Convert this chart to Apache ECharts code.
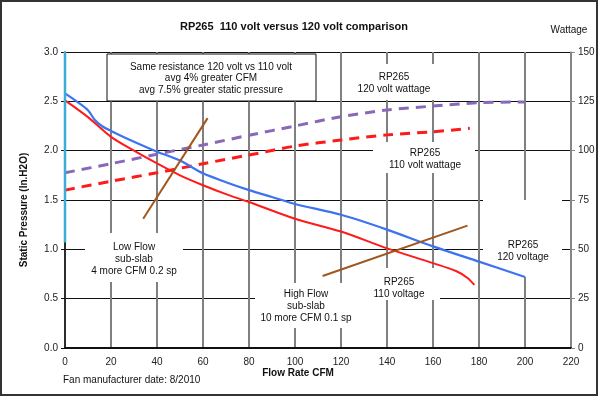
<!DOCTYPE html>
<html><head><meta charset="utf-8">
<script src="https://cdn.jsdelivr.net/npm/echarts@6/dist/echarts.min.js"></script>
<style>html,body{margin:0;padding:0;background:#fff}#c{width:599px;height:397px}</style>
</head><body><div id="c"></div>
<script>
// Static pressure curves (In.H2O) vs flow (CFM)
const flow120 = [0, 5, 10, 13, 16, 20, 30, 40, 50, 60, 70, 80, 90, 100, 120, 140, 160, 180, 200];
const sp120   = [2.58, 2.50, 2.41, 2.31, 2.25, 2.20, 2.09, 1.99, 1.90, 1.77, 1.68, 1.60, 1.53, 1.46, 1.35, 1.20, 1.03, 0.875, 0.72];
const flow110 = [0, 10, 20, 30, 40, 50, 60, 70, 80, 100, 120, 140, 160, 170, 175, 178];
const sp110   = [2.51, 2.34, 2.14, 2.00, 1.87, 1.75, 1.65, 1.56, 1.48, 1.31, 1.18, 1.01, 0.86, 0.78, 0.71, 0.64];
// Wattage curves
const wflow120 = [0, 20, 40, 60, 80, 100, 120, 140, 160, 180, 200];
const watt120  = [88.8, 93.4, 98.2, 102.9, 107.8, 112.5, 117.2, 120.6, 122.6, 124.3, 124.7];
const wflow110 = [0, 20, 40, 60, 80, 100, 120, 140, 160, 176];
const watt110  = [80, 84.5, 88.8, 93.4, 97.8, 102.3, 105.4, 108, 109.6, 111.3];
// Brown operating lines
const lowFlowLine  = [[34, 1.31], [62, 2.33]];
const highFlowLine = [[112, 0.73], [175, 1.24]];
const cyanMarker   = [[0, 3.0], [0, 1.07]];
// Axis ticks
const xTicks = {min: 0, max: 220, interval: 20};
const yTicks = {min: 0, max: 3, interval: 0.5};
const y2Ticks = {min: 0, max: 150, interval: 25};

const zip = (xs, ys) => xs.map((x, i) => [x, ys[i]]);
const FONT = '"Liberation Sans", Arial, sans-serif';

const chart = echarts.init(document.getElementById('c'), null, {renderer: 'canvas'});

function txt(x, y, text, opts) {
  opts = opts || {};
  return {type: 'text', x: x, y: y, z: 5, rotation: opts.rotation || 0,
    style: {text: text, fill: opts.fill || '#111', align: opts.align || 'center', verticalAlign: 'middle',
      font: (opts.bold ? 'bold ' : '') + (opts.size || 10) + 'px ' + FONT, lineHeight: opts.lh || 12.5}};
}
function box(x, y, w, h, border) {
  return {type: 'rect', z: 1, shape: {x: x, y: y, width: w, height: h},
    style: {fill: '#fff', stroke: border ? '#111' : null, lineWidth: border ? 1 : 0}};
}

const option = {
  backgroundColor: '#fff',
  animation: false,
  grid: {left: 65, right: 28, top: 52, bottom: 49, containLabel: false},
  xAxis: {
    type: 'value', min: xTicks.min, max: xTicks.max, interval: xTicks.interval,
    axisLine: {lineStyle: {color: '#111', width: 2}},
    axisTick: {show: false},
    axisLabel: {color: '#222', fontFamily: FONT, fontSize: 10, margin: 9},
    splitLine: {show: true, lineStyle: {color: '#808080', width: 2}}
  },
  yAxis: [{
    type: 'value', min: yTicks.min, max: yTicks.max, interval: yTicks.interval,
    axisLine: {show: true, lineStyle: {color: '#111', width: 1.5}},
    axisTick: {show: true, length: 4, lineStyle: {color: '#111'}},
    axisLabel: {color: '#222', fontFamily: FONT, fontSize: 10, margin: 7, formatter: v => v.toFixed(1)},
    splitLine: {show: true, lineStyle: {color: '#111', width: 1}}
  }, {
    type: 'value', position: 'right', min: y2Ticks.min, max: y2Ticks.max, interval: y2Ticks.interval,
    axisLine: {show: true, lineStyle: {color: '#888', width: 1.5}},
    axisTick: {show: true, length: 4, lineStyle: {color: '#888'}},
    axisLabel: {color: '#222', fontFamily: FONT, fontSize: 10, margin: 7},
    splitLine: {show: false}
  }],
  series: [
    {type: 'line', name: '110 volt wattage', yAxisIndex: 1, data: zip(wflow110, watt110), smooth: 0.3, symbol: 'none',
      lineStyle: {color: '#ff1a1a', width: 3, type: [10, 7]}},
    {type: 'line', name: '120 volt wattage', yAxisIndex: 1, data: zip(wflow120, watt120), smooth: 0.3, symbol: 'none',
      lineStyle: {color: '#8a68b8', width: 3, type: [10, 7]}},
    {type: 'line', name: '110 voltage', data: zip(flow110, sp110), smooth: 0.3, symbol: 'none',
      lineStyle: {color: '#ff1a1a', width: 2}},
    {type: 'line', name: '120 voltage', data: zip(flow120, sp120), smooth: 0.3, symbol: 'none',
      lineStyle: {color: '#3d73f0', width: 2.2}},
    {type: 'line', name: 'low flow', data: lowFlowLine, symbol: 'none', lineStyle: {color: '#a0561c', width: 2}},
    {type: 'line', name: 'high flow', data: highFlowLine, symbol: 'none', lineStyle: {color: '#a0561c', width: 2}},
    {type: 'line', name: 'marker', data: cyanMarker, symbol: 'none', lineStyle: {color: '#3aaed6', width: 2.5}}
  ],
  graphic: [
    {type: 'rect', z: 10, silent: true, shape: {x: 1, y: 1, width: 596, height: 394},
      style: {fill: null, stroke: '#333', lineWidth: 2}},
    box(107, 54, 209, 47, true),
    txt(211, 67, 'Same resistance 120 volt vs 110 volt'),
    txt(211, 78.5, 'avg 4% greater CFM'),
    txt(211, 90.5, 'avg 7.5% greater static pressure'),
    box(350, 64, 90, 36, false),
    txt(394, 83, 'RP265\n120 volt wattage', {lh: 12.5}),
    box(373, 142, 102, 31, false),
    txt(425, 159, 'RP265\n110 volt wattage', {lh: 12.5}),
    box(85, 233, 98, 49, false),
    txt(134, 259, 'Low Flow\nsub-slab\n4 more CFM 0.2 sp', {lh: 12}),
    box(255, 283, 117, 45, false),
    txt(306, 306, 'High Flow\nsub-slab\n10 more CFM 0.1 sp', {lh: 12}),
    box(372, 268, 68, 32, false),
    txt(399, 288, 'RP265\n110 voltage', {lh: 12}),
    box(483, 200, 79, 77, false),
    txt(523, 251, 'RP265\n120 voltage', {lh: 12}),
    txt(294, 27, 'RP265  110 volt versus 120 volt comparison', {bold: true, size: 11}),
    txt(569, 30, 'Wattage', {size: 10}),
    txt(298, 373, 'Flow Rate CFM', {bold: true, size: 10}),
    txt(24, 210, 'Static Pressure (In.H2O)', {bold: true, size: 10, rotation: Math.PI / 2}),
    txt(63, 380, 'Fan manufacturer date: 8/2010', {align: 'left', size: 10})
  ]
};
chart.setOption(option);
</script></body></html>
